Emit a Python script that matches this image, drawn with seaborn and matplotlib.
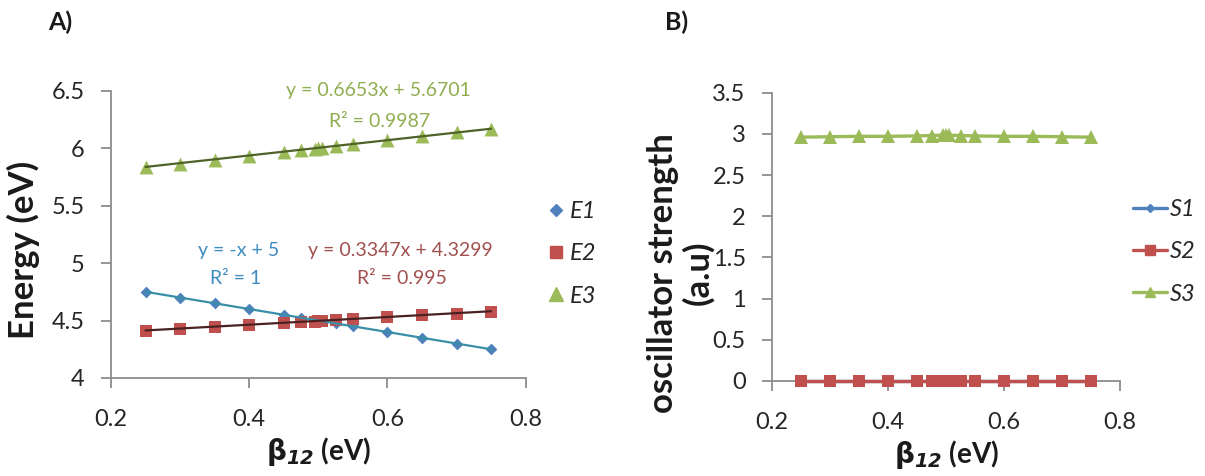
import numpy as np
import pandas as pd
import matplotlib
matplotlib.use("Agg")
import matplotlib.pyplot as plt
from matplotlib.ticker import FuncFormatter, FixedLocator
from matplotlib.lines import Line2D
import seaborn as sns

# ---------------- data ----------------
beta = [0.25, 0.30, 0.35, 0.40, 0.45, 0.475, 0.495, 0.50, 0.505, 0.525, 0.55, 0.60, 0.65, 0.70, 0.75]
E1 = [4.75, 4.70, 4.65, 4.60, 4.55, 4.525, 4.505, 4.50, 4.495, 4.475, 4.45, 4.40, 4.35, 4.30, 4.25]
E2 = [4.41, 4.43, 4.44, 4.46, 4.475, 4.485, 4.49, 4.495, 4.50, 4.505, 4.515, 4.53, 4.545, 4.56, 4.575]
E3 = [5.835, 5.865, 5.90, 5.935, 5.965, 5.98, 5.995, 6.00, 6.005, 6.02, 6.035, 6.07, 6.105, 6.14, 6.17]
S1 = [0.0, 0.0, 0.0, 0.0, 0.0, 0.0, 0.0, 0.0, 0.0, 0.0, 0.0, 0.0, 0.0, 0.0, 0.0]
S2 = [0.005, 0.005, 0.005, 0.005, 0.005, 0.005, 0.005, 0.005, 0.005, 0.005, 0.005, 0.005, 0.005, 0.005, 0.005]
S3 = [2.96, 2.965, 2.97, 2.97, 2.975, 2.98, 2.985, 2.99, 2.985, 2.98, 2.975, 2.97, 2.97, 2.965, 2.96]

energy_names = ["E1", "E2", "E3"]
strength_names = ["S1", "S2", "S3"]
trend_slopes = [-1.0, 0.3347, 0.6653]
trend_intercepts = [5.0, 4.3299, 5.6701]
trend_eq_labels = ["y = -x + 5", "y = 0.3347x + 4.3299", "y = 0.6653x + 5.6701"]
trend_r2_labels = ["R² = 1", "R² = 0.995", "R² = 0.9987"]
x_ticks = [0.2, 0.4, 0.6, 0.8]
yA_ticks = [4.0, 4.5, 5.0, 5.5, 6.0, 6.5]
yB_ticks = [0.0, 0.5, 1.0, 1.5, 2.0, 2.5, 3.0, 3.5]

# ---------------- style ----------------
sns.set_theme(style="white")
plt.rcParams["font.family"] = ["Lato", "DejaVu Sans"]
plt.rcParams["mathtext.fontset"] = "dejavusans"

series_colors = ["#4F81BD", "#C0504D", "#9BBB59"]
trend_colors = ["#3A8FA8", "#4A2222", "#4F6228"]
text_colors = ["#3F8CC2", "#A0504E", "#8FAE4F"]
markers = ["D", "s", "^"]
sizesA = [6.0, 8.5, 10.0]
sizesB = [6.0, 9.0, 10.0]
spine_col = "#8C8C8C"
TICK_FS = 17

fig = plt.figure(figsize=(12.05, 4.76), dpi=100)
fig.patch.set_facecolor("white")
axA = fig.add_axes([0.0921, 0.2059, 0.3441, 0.6036])
axB = fig.add_axes([0.6407, 0.1996, 0.2888, 0.6057])

dfE = pd.DataFrame({"beta": beta, "E1": E1, "E2": E2, "E3": E3})
dfS = pd.DataFrame({"beta": beta, "S1": S1, "S2": S2, "S3": S3})

# ---- panel A: markers ----
handlesA = []
for i, name in enumerate(energy_names):
    sns.scatterplot(data=dfE, x="beta", y=name, ax=axA, marker=markers[i],
                    color=series_colors[i], edgecolor=series_colors[i], linewidth=0,
                    s=(sizesA[i] ** 2), zorder=3 + i, clip_on=False, legend=False)
    handlesA.append(Line2D([], [], linestyle="none", marker=markers[i],
                           markersize=sizesA[i] * 0.95, color=series_colors[i]))

# ---- panel A: trendlines ----
x_rng = np.array([min(beta), max(beta)])
for i in range(3):
    y_rng = trend_slopes[i] * x_rng + trend_intercepts[i]
    sns.lineplot(x=x_rng, y=y_rng, ax=axA, color=trend_colors[i], linewidth=1.6,
                 zorder=7, legend=False)

# ---- panel A: trendline labels ----
eq_pos = [(0.384, 5.109), (0.619, 5.109), (0.587, 6.50)]
r2_pos = [(0.381, 4.869), (0.621, 4.869), (0.589, 6.23)]
for i in range(3):
    axA.text(eq_pos[i][0], eq_pos[i][1], trend_eq_labels[i], color=text_colors[i],
             fontsize=14, ha="center", va="center", zorder=10)
    axA.text(r2_pos[i][0], r2_pos[i][1], trend_r2_labels[i], color=text_colors[i],
             fontsize=14, ha="center", va="center", zorder=10)

# ---- panel B: lines with markers ----
handlesB = []
for i, name in enumerate(strength_names):
    sns.lineplot(data=dfS, x="beta", y=name, ax=axB, marker=markers[i],
                 color=series_colors[i], linewidth=2.4, markersize=sizesB[i],
                 markeredgecolor=series_colors[i], markeredgewidth=0,
                 zorder=3 + i, clip_on=False, legend=False)
    handlesB.append(Line2D([], [], marker=markers[i], markersize=sizesB[i] * 0.75,
                           color=series_colors[i], linewidth=2.4))

# ---- axes styling ----
def fmt(v, pos):
    return "%g" % v

for ax, yt in ((axA, yA_ticks), (axB, yB_ticks)):
    ax.set_xlim(0.2, 0.8)
    ax.set_ylim(yt[0], yt[-1])
    ax.xaxis.set_major_locator(FixedLocator(x_ticks))
    ax.yaxis.set_major_locator(FixedLocator(yt))
    ax.xaxis.set_major_formatter(FuncFormatter(fmt))
    ax.yaxis.set_major_formatter(FuncFormatter(fmt))
    for s in ("top", "right"):
        ax.spines[s].set_visible(False)
    for s in ("left", "bottom"):
        ax.spines[s].set_color(spine_col)
        ax.spines[s].set_linewidth(1.3)
    ax.tick_params(axis="both", which="major", direction="out", length=7,
                   width=1.3, color=spine_col, labelsize=TICK_FS, labelcolor="#262626")
    ax.tick_params(axis="x", pad=15, bottom=True)
    ax.tick_params(axis="y", pad=12, left=True)
    ax.grid(False)
    ax.set_facecolor("white")

xlabel = r"$\mathbf{\beta}_{\mathbfit{12}}$" + " (eV)"
axA.set_xlabel(xlabel, fontsize=20, fontweight="bold", color="#1a1a1a", labelpad=4)
axB.set_xlabel(xlabel, fontsize=20, fontweight="bold", color="#1a1a1a", labelpad=4)

axA.set_ylabel("Energy (eV)", fontsize=25, fontweight="bold", color="#1a1a1a")
axA.yaxis.set_label_coords(-0.172, 0.446)
axB.set_ylabel("oscillator strength\n(a.u)", fontsize=25, fontweight="bold",
               color="#1a1a1a", linespacing=1.1)
axB.yaxis.set_label_coords(-0.165, 0.375)

# ---- legends ----
axA.legend(handlesA, energy_names, loc="center left", bbox_to_anchor=(547 / 1205, 1 - 254 / 476),
           bbox_transform=fig.transFigure, frameon=False, prop={"style": "italic", "size": 17},
           handlelength=0.8, handletextpad=0.15, labelspacing=0.9, borderpad=0, borderaxespad=0)
axB.legend(handlesB, strength_names, loc="center left", bbox_to_anchor=(1133 / 1205, 1 - 252 / 476),
           bbox_transform=fig.transFigure, frameon=False, prop={"style": "italic", "size": 17},
           handlelength=1.45, handletextpad=0.1, labelspacing=0.9, borderpad=0, borderaxespad=0)

# ---- panel letters ----
fig.text(48 / 1205, 1 - 22 / 476, "A)", fontsize=18, fontweight="bold", color="#1a1a1a",
         ha="left", va="center")
fig.text(665 / 1205, 1 - 22 / 476, "B)", fontsize=18, fontweight="bold", color="#1a1a1a",
         ha="left", va="center")

fig.savefig("out.png", dpi=100, facecolor="white")
